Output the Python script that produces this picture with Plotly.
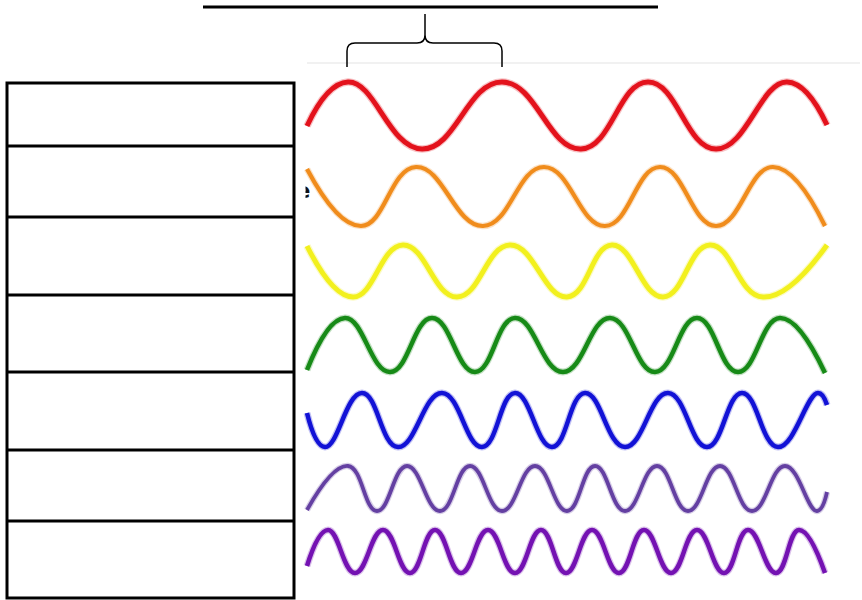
import plotly.graph_objects as go

# ---- wave data: x/y of the extrema (crests and troughs) ----
red_x = [307, 348, 422, 502, 581, 648, 716, 787, 827]
red_y = [126, 82, 149, 82, 149, 82, 149, 82, 125]

orange_x = [307, 361, 416, 483, 544, 605, 660, 716, 773, 825]
orange_y = [169, 226, 167, 226, 167, 226, 167, 226, 167, 226]

yellow_x = [307, 353, 403, 457, 510, 567, 612, 663, 710, 763, 827]
yellow_y = [246, 297, 245, 297, 245, 297, 245, 297, 245, 297, 245]

green_x = [307, 345, 390, 432, 475, 515, 563, 610, 655, 697, 738, 780, 825]
green_y = [370, 318, 372, 318, 372, 318, 372, 318, 372, 318, 372, 318, 373]

blue_x = [307, 325, 362, 398, 442, 482, 515, 552, 585, 625, 668, 707, 742, 778, 818, 827]
blue_y = [413, 447, 393, 447, 393, 447, 393, 447, 393, 447, 393, 447, 393, 447, 393, 405]

violet_x = [307, 348, 377, 407, 440, 470, 502, 535, 567, 595, 625, 657, 688, 720, 752, 785, 817, 827]
violet_y = [510, 466, 511, 466, 511, 466, 511, 466, 511, 466, 511, 466, 511, 466, 511, 466, 511, 492]

purple_x = [307, 328, 355, 383, 410, 435, 461, 488, 515, 541, 566, 592, 619, 644, 671, 697, 724, 748, 776, 799, 825]
purple_y = [566, 530, 573, 530, 573, 530, 573, 530, 573, 530, 573, 530, 573, 530, 573, 530, 573, 530, 573, 530, 573]

waves = [
    ("red", red_x, red_y, "#e3121c", 5),
    ("orange", orange_x, orange_y, "#f08c1c", 4.2),
    ("yellow", yellow_x, yellow_y, "#f2f01e", 5),
    ("green", green_x, green_y, "#178a17", 4.5),
    ("blue", blue_x, blue_y, "#1212d6", 4.5),
    ("violet", violet_x, violet_y, "#6440a2", 3.8),
    ("purple", purple_x, purple_y, "#7412b2", 4.5),
]

fig = go.Figure()

# stray glyph fragment at the left edge of the wave picture
fig.add_trace(go.Scatter(x=[303], y=[192], mode="text", text=["<b>e</b>"],
                         textfont=dict(family="DejaVu Sans", size=22, color="#111111"),
                         hoverinfo="skip", showlegend=False))

for name, xs, ys, col, w in waves:
    # soft halo to imitate the blurred edges of the original picture
    fig.add_trace(go.Scatter(x=xs, y=ys, mode="lines",
                             line=dict(color=col, width=w + 2.5, shape="spline", smoothing=1.3),
                             opacity=0.25, hoverinfo="skip", showlegend=False))
    fig.add_trace(go.Scatter(x=xs, y=ys, mode="lines", name=name,
                             line=dict(color=col, width=w, shape="spline", smoothing=1.3),
                             hoverinfo="skip", showlegend=False))

shapes = []
# white patch hiding the left part of the stray glyph
shapes.append(dict(type="rect", x0=296, x1=305.5, y0=176, y1=210, fillcolor="white",
                   line=dict(width=0), layer="above"))
# faint border of the wave picture
shapes.append(dict(type="line", x0=307, x1=860, y0=63, y1=63, line=dict(color="#ececec", width=1.5)))
# title line
shapes.append(dict(type="line", x0=203, x1=658, y0=7, y1=7, line=dict(color="black", width=3)))
# brace
shapes.append(dict(type="path",
                   path="M 347 67 L 347 51 Q 347 43 355 43 L 417 43 Q 425 43 425 35 L 425 14 "
                        "M 425 35 Q 425 43 433 43 L 494 43 Q 502 43 502 51 L 502 67",
                   line=dict(color="black", width=1.5)))
# table of answer boxes
row_edges = [83, 146, 217, 295, 372, 450, 521, 598]
shapes.append(dict(type="rect", x0=7, x1=294, y0=row_edges[0], y1=row_edges[-1],
                   line=dict(color="black", width=3)))
for e in row_edges[1:-1]:
    shapes.append(dict(type="line", x0=7, x1=294, y0=e, y1=e, line=dict(color="black", width=3)))

fig.update_layout(
    width=862, height=600,
    margin=dict(l=0, r=0, t=0, b=0),
    paper_bgcolor="white", plot_bgcolor="white",
    xaxis=dict(range=[0, 862], visible=False, fixedrange=True),
    yaxis=dict(range=[600, 0], visible=False, fixedrange=True),
    shapes=shapes,
    showlegend=False,
)

fig.write_html("out.html", config={"displayModeBar": False},
               post_script="document.body.style.margin='0';document.body.style.overflow='hidden';")
